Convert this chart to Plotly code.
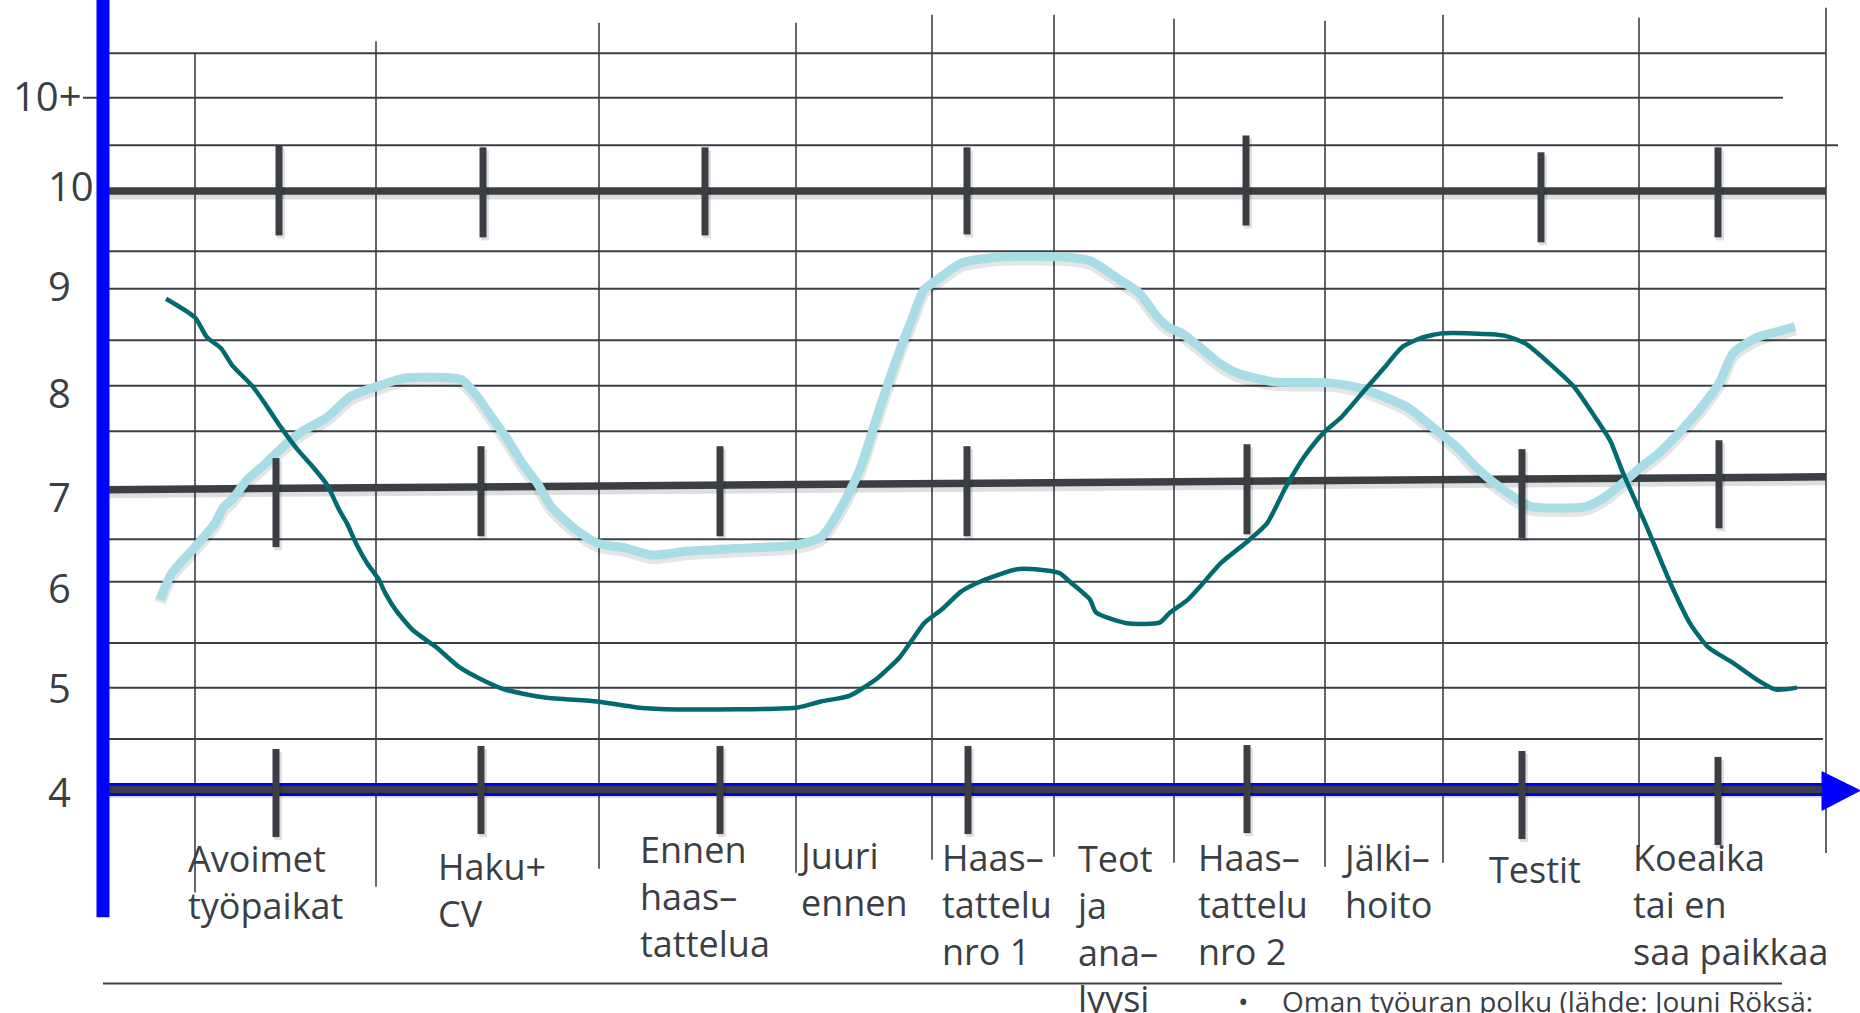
import plotly.graph_objects as go

# ---------------- data ----------------
# vertical scale labels (score)
scale_labels = ["10+", "10", "9", "8", "7", "6", "5", "4"]
scale_label_y = [10.97, 10.06, 9.05, 7.97, 6.92, 6.00, 4.99, 3.94]
scale_label_x = [11, 46, 46, 46, 46, 46, 46, 46]

# stages of the job-search path (x = position along the timeline,
# y = score level of the first text line)
stages = ["Avoimet<br>työpaikat", "Haku+<br>CV", "Ennen<br>haas–<br>tattelua",
          "Juuri<br>ennen", "Haas–<br>tattelu<br>nro 1", "Teot<br>ja<br>ana–<br>lyysi",
          "Haas–<br>tattelu<br>nro 2", "Jälki–<br>hoito", "Testit",
          "Koeaika<br>tai en<br>saa paikkaa"]
stage_x = [187, 437, 639, 797, 941, 1075, 1197, 1341, 1488, 1632]
stage_y = [3.26, 3.18, 3.35, 3.29, 3.27, 3.27, 3.27, 3.27, 3.15, 3.27]

# light blue curve
light_x = [160, 172, 195, 215, 224, 232, 247, 264, 287, 304, 327, 350, 373, 405, 453,
           462, 476, 494, 508, 522, 537, 551, 574, 597, 626, 652, 689, 746, 795, 821,
           844, 861, 875, 887, 900, 912, 924, 937, 961, 996, 1068, 1091, 1120, 1139,
           1157, 1169, 1182, 1200, 1218, 1237, 1274, 1329, 1359, 1384, 1408, 1433,
           1457, 1476, 1494, 1518, 1531, 1586, 1604, 1623, 1641, 1659, 1684, 1702,
           1721, 1733, 1757, 1782, 1795]
light_y = [5.88, 6.15, 6.41, 6.65, 6.82, 6.89, 7.09, 7.24, 7.46, 7.59, 7.72, 7.93, 8.02,
           8.12, 8.12, 8.10, 7.95, 7.69, 7.49, 7.26, 7.06, 6.82, 6.60, 6.45, 6.40, 6.33,
           6.37, 6.40, 6.43, 6.51, 6.86, 7.22, 7.66, 8.03, 8.40, 8.71, 9.01, 9.11, 9.28,
           9.34, 9.34, 9.30, 9.11, 8.98, 8.74, 8.63, 8.57, 8.43, 8.28, 8.17, 8.08, 8.07,
           8.02, 7.93, 7.82, 7.62, 7.42, 7.22, 7.06, 6.89, 6.82, 6.82, 6.91, 7.06, 7.22,
           7.36, 7.62, 7.83, 8.10, 8.37, 8.53, 8.60, 8.64]

# dark teal curve
teal_x = [166, 195, 207, 221, 232, 253, 267, 281, 298, 313, 327, 339, 347, 356, 367,
          379, 385, 396, 413, 436, 459, 482, 505, 545, 597, 637, 677, 798, 821, 850,
          878, 900, 912, 924, 943, 961, 980, 1019, 1059, 1071, 1090, 1096, 1127, 1160,
          1169, 1188, 1200, 1221, 1249, 1267, 1286, 1304, 1323, 1341, 1365, 1384, 1402,
          1420, 1442, 1503, 1525, 1549, 1574, 1592, 1610, 1623, 1647, 1672, 1690, 1708,
          1733, 1757, 1776, 1797]
teal_y = [8.92, 8.73, 8.53, 8.42, 8.25, 8.03, 7.83, 7.62, 7.39, 7.22, 7.04, 6.79, 6.65,
          6.45, 6.25, 6.08, 5.95, 5.77, 5.57, 5.40, 5.20, 5.07, 4.97, 4.89, 4.85, 4.79,
          4.77, 4.79, 4.85, 4.91, 5.09, 5.30, 5.47, 5.64, 5.79, 5.96, 6.06, 6.19, 6.15,
          6.05, 5.88, 5.75, 5.64, 5.65, 5.74, 5.88, 6.01, 6.25, 6.48, 6.65, 7.02, 7.32,
          7.56, 7.72, 8.00, 8.22, 8.43, 8.52, 8.57, 8.55, 8.47, 8.27, 8.03, 7.77, 7.49,
          7.16, 6.61, 6.01, 5.64, 5.40, 5.24, 5.07, 4.97, 4.99]

# thin horizontal grid lines
hgrid_y = [11.40, 10.95, 10.47, 9.40, 9.02, 8.50, 8.04, 7.58, 6.49, 6.06, 5.44, 4.99, 4.47, 2.00]
hgrid_x0 = [104, 83, 107, 105, 105, 105, 105, 105, 105, 105, 105, 105, 105, 103]
hgrid_x1 = [1826, 1783, 1838, 1826, 1826, 1826, 1826, 1826, 1826, 1826, 1828, 1826, 1823, 1782]

# thin vertical grid lines
vgrid_x = [195, 376, 599, 796, 932, 1054, 1174, 1325, 1443, 1639, 1826]
vgrid_top = [11.40, 11.52, 11.71, 11.71, 11.79, 11.79, 11.75, 11.73, 11.79, 11.76, 11.86]
vgrid_bottom = [2.92, 2.98, 3.16, 3.12, 3.25, 3.28, 3.22, 3.18, 3.22, 3.38, 3.32]

# three thick reference lines (10, 7, 4)
ref_x0 = [105, 105, 105]
ref_x1 = [1826, 1826, 1822]
ref_y0 = [10.01, 6.99, 3.96]
ref_y1 = [10.01, 7.12, 3.96]

# tick marks on the reference lines
tick_x_10 = [279, 483, 705, 967, 1246, 1541, 1718]
tick_top_10 = [10.47, 10.45, 10.45, 10.45, 10.57, 10.40, 10.45]
tick_bot_10 = [9.56, 9.54, 9.56, 9.57, 9.66, 9.49, 9.54]
tick_x_7 = [276, 481, 720, 967, 1247, 1522, 1719]
tick_top_7 = [7.31, 7.43, 7.43, 7.43, 7.45, 7.40, 7.49]
tick_bot_7 = [6.41, 6.52, 6.52, 6.52, 6.54, 6.50, 6.60]
tick_x_4 = [276, 481, 720, 968, 1247, 1522, 1718]
tick_top_4 = [4.37, 4.40, 4.40, 4.40, 4.41, 4.35, 4.29]
tick_bot_4 = [3.48, 3.51, 3.51, 3.51, 3.52, 3.46, 3.40]

# blue axes
vaxis_x = [103, 103]
vaxis_y = [2.67, 11.94]
haxis_x = [103, 1822]
haxis_y = [3.96, 3.96]
arrow_x = [1822, 1860, 1822, 1822]
arrow_y = [4.14, 3.95, 3.75, 4.14]

footnote_bullet = "•"
footnote = "Oman työuran polku (lähde: Jouni Röksä:"
footnote_x = [1236, 1280]
footnote_y = 1.82

# ---------------- styling ----------------
INK = "#3b3f44"
LIGHT = "#a9dde5"
TEAL = "#006a70"
BLUE = "#0000ff"
PX = 1 / 98.95            # one pixel in score units (vertical)
STAGE_FONT = 36
LINE_STEP = 1.3 * STAGE_FONT * PX   # plotly line spacing of multi-line text


def segs(x0s, x1s, y0s, y1s, dy=0.0):
    xs, ys = [], []
    for a, b, c, d in zip(x0s, x1s, y0s, y1s):
        xs += [a, b, None]
        ys += [c + dy, d + dy, None]
    return xs, ys


fig = go.Figure()

# thin grid
hx, hy = segs(hgrid_x0, hgrid_x1, hgrid_y, hgrid_y)
fig.add_trace(go.Scatter(x=hx, y=hy, mode="lines", line=dict(color=INK, width=2),
                         hoverinfo="skip", showlegend=False))
vx, vy = segs(vgrid_x, vgrid_x, vgrid_top, vgrid_bottom)
fig.add_trace(go.Scatter(x=vx, y=vy, mode="lines", line=dict(color=INK, width=1.6),
                         hoverinfo="skip", showlegend=False))

# blue horizontal axis under the "4" line
fig.add_trace(go.Scatter(x=haxis_x, y=haxis_y, mode="lines", line=dict(color=BLUE, width=13),
                         hoverinfo="skip", showlegend=False))
fig.add_trace(go.Scatter(x=arrow_x, y=arrow_y, mode="lines", fill="toself", fillcolor=BLUE,
                         line=dict(color=BLUE, width=1), hoverinfo="skip", showlegend=False))

# shadows of thick lines
rx, ry = segs(ref_x0, ref_x1, ref_y0, ref_y1, dy=-4 * PX)
fig.add_trace(go.Scatter(x=rx, y=ry, mode="lines", line=dict(color="rgba(0,0,0,0.13)", width=9),
                         hoverinfo="skip", showlegend=False))
# thick reference lines
rx, ry = segs(ref_x0, ref_x1, ref_y0, ref_y1)
fig.add_trace(go.Scatter(x=rx, y=ry, mode="lines", line=dict(color=INK, width=7.5),
                         hoverinfo="skip", showlegend=False))

# curves (with soft shadow)
fig.add_trace(go.Scatter(x=light_x, y=[v - 3 * PX for v in light_y], mode="lines",
                         line=dict(color="rgba(0,0,0,0.10)", width=12, shape="spline", smoothing=0.6),
                         hoverinfo="skip", showlegend=False))
fig.add_trace(go.Scatter(x=light_x, y=light_y, mode="lines",
                         line=dict(color=LIGHT, width=9, shape="spline", smoothing=0.6),
                         name="tunne", showlegend=False))
fig.add_trace(go.Scatter(x=teal_x, y=teal_y, mode="lines",
                         line=dict(color=TEAL, width=4.5, shape="spline", smoothing=0.6),
                         name="tilanne", showlegend=False))

# tick marks
tx, ty = [], []
for xs, tops, bots in [(tick_x_10, tick_top_10, tick_bot_10),
                       (tick_x_7, tick_top_7, tick_bot_7),
                       (tick_x_4, tick_top_4, tick_bot_4)]:
    a, b = segs(xs, xs, tops, bots)
    tx += a
    ty += b
fig.add_trace(go.Scatter(x=[v + 2 if v is not None else None for v in tx],
                         y=[v - 3 * PX if v is not None else None for v in ty], mode="lines",
                         line=dict(color="rgba(0,0,0,0.12)", width=8),
                         hoverinfo="skip", showlegend=False))
fig.add_trace(go.Scatter(x=tx, y=ty, mode="lines", line=dict(color=INK, width=7),
                         hoverinfo="skip", showlegend=False))

# blue vertical axis
fig.add_trace(go.Scatter(x=vaxis_x, y=vaxis_y, mode="lines", line=dict(color=BLUE, width=13),
                         hoverinfo="skip", showlegend=False))

annotations = []
for t, x, y in zip(scale_labels, scale_label_x, scale_label_y):
    annotations.append(dict(x=x, y=y, xref="x", yref="y", text=t, showarrow=False,
                            xanchor="left", yanchor="middle",
                            font=dict(family="Open Sans", size=40, color=INK)))
for t, x, y in zip(stages, stage_x, stage_y):
    n = t.count("<br>") + 1
    annotations.append(dict(x=x, y=y - (n - 1) / 2 * LINE_STEP, xref="x", yref="y", text=t,
                            showarrow=False, xanchor="left", yanchor="middle", align="left",
                            borderpad=0,
                            font=dict(family="Open Sans", size=STAGE_FONT, color=INK)))
annotations.append(dict(x=footnote_x[0], y=footnote_y, xref="x", yref="y", text=footnote_bullet,
                        showarrow=False, xanchor="left", yanchor="middle",
                        font=dict(family="Open Sans", size=28, color=INK)))
annotations.append(dict(x=footnote_x[1], y=footnote_y, xref="x", yref="y", text=footnote,
                        showarrow=False, xanchor="left", yanchor="middle",
                        font=dict(family="Open Sans", size=28, color=INK)))

fig.update_layout(
    width=1860, height=1013,
    margin=dict(l=0, r=0, t=0, b=0),
    paper_bgcolor="white", plot_bgcolor="white",
    xaxis=dict(range=[0, 1860], visible=False, fixedrange=True),
    yaxis=dict(range=[1.702, 11.939], visible=False, fixedrange=True),
    annotations=annotations,
    showlegend=False,
)

fig.write_html("out.html", config={"displayModeBar": False},
               post_script="document.body.style.margin='0';document.body.style.overflow='hidden';")
